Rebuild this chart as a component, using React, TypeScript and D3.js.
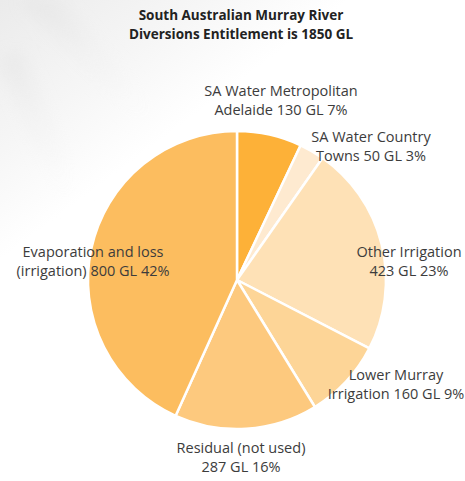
import React from "react";
import * as d3 from "d3";

const categories = [
  "SA Water Metropolitan Adelaide",
  "SA Water Country Towns",
  "Other Irrigation",
  "Lower Murray Irrigation",
  "Residual (not used)",
  "Evaporation and loss (irrigation)",
];
const values = [130, 50, 423, 160, 287, 800];
const percents = [7, 3, 23, 9, 16, 42];
const labelLines: string[][] = [
  ["SA Water Metropolitan", "Adelaide 130 GL 7%"],
  ["SA Water Country", "Towns 50 GL 3%"],
  ["Other Irrigation", "423 GL 23%"],
  ["Lower Murray", "Irrigation 160 GL 9%"],
  ["Residual (not used)", "287 GL 16%"],
  ["Evaporation and loss", "(irrigation) 800 GL 42%"],
];
const titleLines = ["South Australian Murray River", "Diversions Entitlement is 1850 GL"];

const COLORS = ["#FDB138", "#FEEAD0", "#FEE1B6", "#FDD597", "#FDC97E", "#FCBD5F"];
// label anchor (center of first line baseline) relative to pie center
const LABEL_POS: [number, number][] = [
  [44, -184],
  [134, -138],
  [172, -23],
  [159, 100],
  [4, 173],
  [-144, -23],
];

const W = 465;
const H = 481;
const CX = 237;
const CY = 280;
const R = 149;

export default function App() {
  const pie = d3
    .pie<number>()
    .sort(null)
    .value((d) => d);
  const arcs = pie(values);
  const arc = d3.arc<d3.PieArcDatum<number>>().innerRadius(0).outerRadius(R);

  return (
    <svg
      width={W}
      height={H}
      style={{ position: "absolute", left: 0, top: 0 }}
      fontFamily="'Open Sans', 'Noto Sans', sans-serif"
    >
      <defs>
        <linearGradient id="bg" x1="0" y1="0" x2="0.8" y2="0.6">
          <stop offset="0" stopColor="#ebebeb" />
          <stop offset="0.35" stopColor="#f6f6f6" />
          <stop offset="0.6" stopColor="#ffffff" />
        </linearGradient>
        <linearGradient id="streak" x1="0" y1="0" x2="1" y2="1">
          <stop offset="0" stopColor="#dcdcdc" stopOpacity="0.7" />
          <stop offset="1" stopColor="#ffffff" stopOpacity="0" />
        </linearGradient>
        <filter id="blur">
          <feGaussianBlur stdDeviation="8" />
        </filter>
      </defs>
      <rect width={W} height={H} fill="#ffffff" />
      <rect width={W} height={260} fill="url(#bg)" />
      <g filter="url(#blur)" opacity={0.6}>
        <polygon points="20,0 60,0 170,120 140,130" fill="url(#streak)" />
        <polygon points="0,60 20,50 90,200 60,210" fill="url(#streak)" />
      </g>
      <g fontWeight="bold" fontSize={13.5} fill="#222" textAnchor="middle">
        {titleLines.map((t, i) => (
          <text key={i} x={241} y={20 + i * 18.5}>
            {t}
          </text>
        ))}
      </g>
      <g transform={`translate(${CX},${CY})`}>
        {arcs.map((a, i) => (
          <path
            key={categories[i]}
            d={arc(a) || ""}
            fill={COLORS[i]}
            stroke="#ffffff"
            strokeWidth={2.5}
            strokeLinejoin="round"
          />
        ))}
        <g fontSize={14.5} fill="#3c3c3c" textAnchor="middle">
          {labelLines.map((lines, i) => (
            <text key={i} x={LABEL_POS[i][0]} y={LABEL_POS[i][1]} data-pct={percents[i]}>
              {lines.map((l, j) => (
                <tspan key={j} x={LABEL_POS[i][0]} dy={j === 0 ? 0 : 18.5}>
                  {l}
                </tspan>
              ))}
            </text>
          ))}
        </g>
      </g>
    </svg>
  );
}
